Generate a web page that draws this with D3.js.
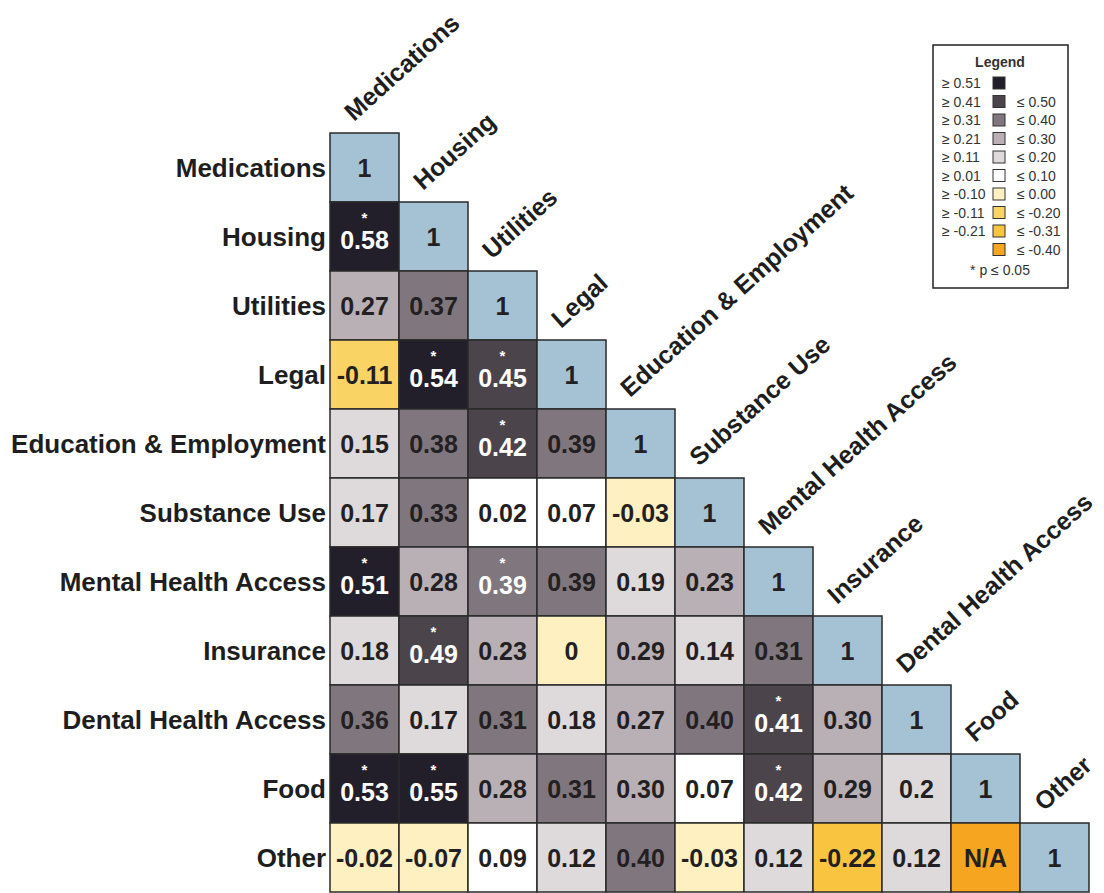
<!DOCTYPE html>
<html>
<head>
<meta charset="utf-8">
<script src="https://cdn.jsdelivr.net/npm/d3@7"></script>
<style>
  body { margin: 0; background: #fff; }
  text { font-family: "Liberation Sans", Arial, sans-serif; }
</style>
</head>
<body>
<div id="chart"></div>
<script>
const names = ["Medications", "Housing", "Utilities", "Legal", "Education & Employment",
    "Substance Use", "Mental Health Access", "Insurance", "Dental Health Access", "Food", "Other"];

// lower triangle, as printed in the cells
const cellText = [
    ["1"],
    ["0.58", "1"],
    ["0.27", "0.37", "1"],
    ["-0.11", "0.54", "0.45", "1"],
    ["0.15", "0.38", "0.42", "0.39", "1"],
    ["0.17", "0.33", "0.02", "0.07", "-0.03", "1"],
    ["0.51", "0.28", "0.39", "0.39", "0.19", "0.23", "1"],
    ["0.18", "0.49", "0.23", "0", "0.29", "0.14", "0.31", "1"],
    ["0.36", "0.17", "0.31", "0.18", "0.27", "0.40", "0.41", "0.30", "1"],
    ["0.53", "0.55", "0.28", "0.31", "0.30", "0.07", "0.42", "0.29", "0.2", "1"],
    ["-0.02", "-0.07", "0.09", "0.12", "0.40", "-0.03", "0.12", "-0.22", "0.12", "N/A", "1"]
];

// [row, col] of cells with p <= 0.05
const significant = [[1, 0], [3, 1], [3, 2], [4, 2], [6, 0], [6, 2], [7, 1], [8, 6], [9, 0], [9, 1], [9, 6]];

const legendLow = ["≥ 0.51", "≥ 0.41", "≥ 0.31", "≥ 0.21", "≥ 0.11", "≥ 0.01", "≥ -0.10", "≥ -0.11", "≥ -0.21", ""];
const legendHigh = ["", "≤ 0.50", "≤ 0.40", "≤ 0.30", "≤ 0.20", "≤ 0.10", "≤ 0.00", "≤ -0.20", "≤ -0.31", "≤ -0.40"];
const binColors = ["#221e2a", "#4c444b", "#7f777d", "#b8b0b5", "#dedadc", "#ffffff",
    "#fff0c2", "#f9d465", "#f9c540", "#f5a520"];
const diagColor = "#a5c2d5";

const width = 1104, height = 893;
const cell = 69, gridLeft = 330, gridTop = 133;

const color = d3.scaleThreshold()
    .domain([-0.315, -0.205, -0.105, 0.005, 0.105, 0.205, 0.305, 0.405, 0.505])
    .range(binColors.slice().reverse());

const x = d3.scaleBand().domain(names).range([gridLeft, gridLeft + cell * names.length]);
const y = d3.scaleBand().domain(names).range([gridTop, gridTop + cell * names.length]);

const sigSet = new Set(significant.map(d => d.join(",")));
const cells = [];
cellText.forEach((row, i) => {
    row.forEach((t, j) => {
        cells.push({
            row: names[i], col: names[j], text: t,
            value: t === "N/A" ? null : +t,
            diag: i === j,
            sig: sigSet.has(i + "," + j)
        });
    });
});

const svg = d3.select("#chart")
    .append("svg")
    .attr("width", width)
    .attr("height", height);

const g = svg.selectAll(".cell")
    .data(cells)
    .enter()
    .append("g")
    .attr("class", "cell")
    .attr("transform", d => `translate(${x(d.col)},${y(d.row)})`);

g.append("rect")
    .attr("width", x.bandwidth())
    .attr("height", y.bandwidth())
    .attr("fill", d => d.diag ? diagColor : (d.value === null ? binColors[9] : color(d.value)))
    .attr("stroke", "#2a2a2a")
    .attr("stroke-width", 1.5);

g.append("text")
    .attr("x", x.bandwidth() / 2)
    .attr("y", d => y.bandwidth() / 2 + (d.sig ? 3 : 0))
    .attr("dy", "0.36em")
    .attr("text-anchor", "middle")
    .attr("font-size", "25px")
    .attr("font-weight", "bold")
    .attr("fill", d => d.sig ? "#ffffff" : "#231f22")
    .text(d => d.text);

g.filter(d => d.sig)
    .append("text")
    .attr("x", x.bandwidth() / 2)
    .attr("y", 21)
    .attr("text-anchor", "middle")
    .attr("font-size", "15px")
    .attr("font-weight", "bold")
    .attr("fill", "#ffffff")
    .text("*");

// row labels
svg.selectAll(".rowLabel")
    .data(names)
    .enter()
    .append("text")
    .attr("class", "rowLabel")
    .attr("x", gridLeft - 4)
    .attr("y", d => y(d) + y.bandwidth() / 2)
    .attr("dy", "0.36em")
    .attr("text-anchor", "end")
    .attr("font-size", "26px")
    .attr("font-weight", "bold")
    .attr("fill", "#1e1e1e")
    .text(d => d);

// column labels, above each diagonal cell
svg.selectAll(".colLabel")
    .data(names)
    .enter()
    .append("text")
    .attr("class", "colLabel")
    .attr("transform", d => `translate(${x(d) + 24},${y(d) - 11}) rotate(-42)`)
    .attr("font-size", "25px")
    .attr("font-weight", "bold")
    .attr("fill", "#1e1e1e")
    .text(d => d);

// legend
const legend = svg.append("g").attr("transform", "translate(933,45)");

legend.append("rect")
    .attr("width", 135)
    .attr("height", 243)
    .attr("fill", "#fff")
    .attr("stroke", "#222")
    .attr("stroke-width", 1.5);

legend.append("text")
    .attr("x", 67)
    .attr("y", 17)
    .attr("dy", "0.36em")
    .attr("text-anchor", "middle")
    .attr("font-size", "14px")
    .attr("font-weight", "bold")
    .attr("fill", "#333")
    .text("Legend");

const rows = legend.selectAll(".legRow")
    .data(binColors)
    .enter()
    .append("g")
    .attr("class", "legRow")
    .attr("transform", (d, i) => `translate(0,${38 + i * 18.5})`);

rows.append("rect")
    .attr("x", 60)
    .attr("y", -6)
    .attr("width", 12)
    .attr("height", 12)
    .attr("fill", d => d)
    .attr("stroke", "#333")
    .attr("stroke-width", 1);

rows.append("text")
    .attr("x", 9)
    .attr("dy", "0.36em")
    .attr("font-size", "14px")
    .attr("fill", "#333")
    .text((d, i) => legendLow[i]);

rows.append("text")
    .attr("x", 84)
    .attr("dy", "0.36em")
    .attr("font-size", "14px")
    .attr("fill", "#333")
    .text((d, i) => legendHigh[i]);

legend.append("text")
    .attr("x", 67)
    .attr("y", 225)
    .attr("dy", "0.36em")
    .attr("text-anchor", "middle")
    .attr("font-size", "14px")
    .attr("fill", "#333")
    .text("* p ≤ 0.05");
</script>
</body>
</html>
